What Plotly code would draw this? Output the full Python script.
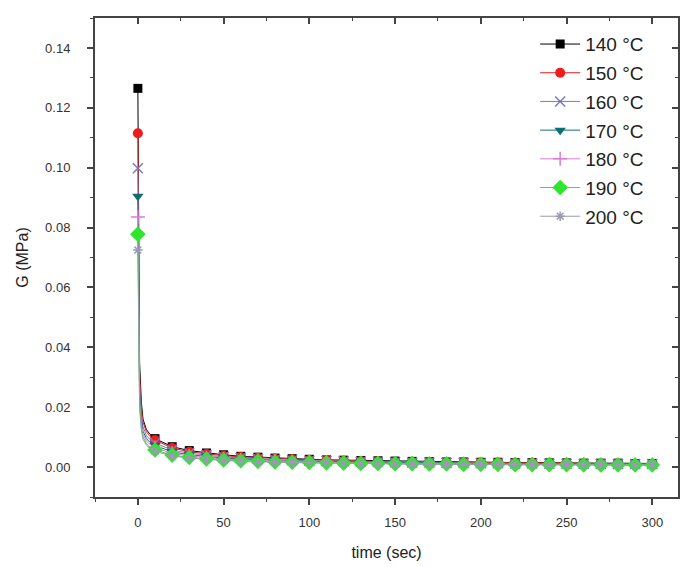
import plotly.graph_objects as go

# ---------------- data ----------------
t_marks = [0, 10, 20, 30, 40, 50, 60, 70, 80, 90, 100, 110, 120, 130, 140, 150,
           160, 170, 180, 190, 200, 210, 220, 230, 240, 250, 260, 270, 280, 290, 300]
t_early = [0.5, 1, 2, 3, 5, 7]

labels = ["140 °C", "150 °C", "160 °C", "170 °C", "180 °C", "190 °C", "200 °C"]

g140 = [0.1265, 0.0095, 0.0068, 0.0055, 0.0047, 0.0041, 0.0036, 0.0033, 0.0030, 0.0028, 0.0026,
        0.0024, 0.0023, 0.0022, 0.0021, 0.0020, 0.0019, 0.0018, 0.0017, 0.0017, 0.0016, 0.0016,
        0.0015, 0.0015, 0.0014, 0.0014, 0.0013, 0.0013, 0.0013, 0.0012, 0.0012]
g150 = [0.1115, 0.0090, 0.0064, 0.0051, 0.0044, 0.0038, 0.0034, 0.0031, 0.0028, 0.0026, 0.0024,
        0.0023, 0.0021, 0.0020, 0.0019, 0.0018, 0.0018, 0.0017, 0.0016, 0.0016, 0.0015, 0.0015,
        0.0014, 0.0014, 0.0013, 0.0013, 0.0012, 0.0012, 0.0012, 0.0011, 0.0011]
g160 = [0.0998, 0.0080, 0.0057, 0.0046, 0.0039, 0.0034, 0.0030, 0.0027, 0.0025, 0.0023, 0.0021,
        0.0020, 0.0019, 0.0018, 0.0017, 0.0016, 0.0015, 0.0015, 0.0014, 0.0014, 0.0013, 0.0013,
        0.0012, 0.0012, 0.0011, 0.0011, 0.0011, 0.0010, 0.0010, 0.0010, 0.0010]
g170 = [0.0905, 0.0072, 0.0051, 0.0041, 0.0035, 0.0030, 0.0027, 0.0024, 0.0022, 0.0020, 0.0019,
        0.0018, 0.0017, 0.0016, 0.0015, 0.0014, 0.0014, 0.0013, 0.0013, 0.0012, 0.0012, 0.0011,
        0.0011, 0.0011, 0.0010, 0.0010, 0.0010, 0.0009, 0.0009, 0.0009, 0.0009]
g180 = [0.0835, 0.0065, 0.0046, 0.0037, 0.0031, 0.0027, 0.0024, 0.0022, 0.0020, 0.0018, 0.0017,
        0.0016, 0.0015, 0.0014, 0.0013, 0.0013, 0.0012, 0.0012, 0.0011, 0.0011, 0.0010, 0.0010,
        0.0010, 0.0009, 0.0009, 0.0009, 0.0009, 0.0008, 0.0008, 0.0008, 0.0008]
g190 = [0.0778, 0.0057, 0.0040, 0.0032, 0.0027, 0.0024, 0.0021, 0.0019, 0.0017, 0.0016, 0.0015,
        0.0014, 0.0013, 0.0012, 0.0012, 0.0011, 0.0011, 0.0010, 0.0010, 0.0009, 0.0009, 0.0009,
        0.0008, 0.0008, 0.0008, 0.0008, 0.0007, 0.0007, 0.0007, 0.0007, 0.0007]
g200 = [0.0725, 0.0053, 0.0037, 0.0030, 0.0025, 0.0022, 0.0019, 0.0017, 0.0016, 0.0015, 0.0014,
        0.0013, 0.0012, 0.0011, 0.0011, 0.0010, 0.0010, 0.0009, 0.0009, 0.0009, 0.0008, 0.0008,
        0.0008, 0.0007, 0.0007, 0.0007, 0.0007, 0.0007, 0.0006, 0.0006, 0.0006]

# line values between t=0 and t=10 (read from the steep initial drop)
e140 = [0.050, 0.035, 0.022, 0.016, 0.0125, 0.0110]
e150 = [0.045, 0.031, 0.020, 0.015, 0.0118, 0.0103]
e160 = [0.040, 0.028, 0.018, 0.0135, 0.0105, 0.0092]
e170 = [0.036, 0.025, 0.016, 0.0120, 0.0095, 0.0083]
e180 = [0.033, 0.023, 0.0148, 0.0110, 0.0087, 0.0076]
e190 = [0.030, 0.021, 0.0135, 0.0100, 0.0078, 0.0067]
e200 = [0.028, 0.0195, 0.0125, 0.0093, 0.0073, 0.0062]

series = [g140, g150, g160, g170, g180, g190, g200]
early = [e140, e150, e160, e170, e180, e190, e200]

# ---------------- styles ----------------
colors = ["#000000", "#ee1c1c", "#7a7ab8", "#0e6e72", "#e07ad8", "#2ee62e", "#9a9ab0"]
symbols = ["square", "circle", "x-thin-open", "triangle-down", "cross-thin-open", "diamond", "asterisk-open"]
sizes = [9, 10, 10, 10, 10, 12, 8]

fig = go.Figure()

for lab, g, e, c, s, sz in zip(labels, series, early, colors, symbols, sizes):
    open_sym = s.endswith("-open")
    marker = dict(symbol=s, size=sz, color=c,
                  line=dict(width=1.5 if open_sym else 0, color=c))
    xs = [t_marks[0]] + t_early + t_marks[1:]
    ys = [g[0]] + e + g[1:]
    fig.add_trace(go.Scatter(x=xs, y=ys, mode="lines", line=dict(color=c, width=1),
                             showlegend=False, legendgroup=lab, hoverinfo="skip"))
    fig.add_trace(go.Scatter(x=t_marks, y=g, mode="markers", marker=marker,
                             showlegend=False, legendgroup=lab))
    fig.add_trace(go.Scatter(x=[None], y=[None], mode="lines+markers", name=lab,
                             line=dict(color=c, width=1), marker=marker, legendgroup=lab))

FONT = "Liberation Sans, Arial, sans-serif"
axis_font = dict(family=FONT, size=13, color="#333333")
title_font = dict(family=FONT, size=16, color="#222222")
AX = "#444444"

xr = [-25, 315]
yr = [-0.01, 0.15]
xt = [0, 50, 100, 150, 200, 250, 300]
yt = [0, 0.02, 0.04, 0.06, 0.08, 0.10, 0.12, 0.14]

fig.update_layout(
    width=680, height=567,
    margin=dict(l=95, r=2, t=18, b=70, autoexpand=False),
    paper_bgcolor="white", plot_bgcolor="white",
    showlegend=True,
    legend=dict(x=0.755, y=0.985, xanchor="left", yanchor="top",
                bgcolor="rgba(0,0,0,0)", borderwidth=0,
                font=dict(family=FONT, size=19, color="#222222"),
                tracegroupgap=1, itemwidth=40),
    xaxis=dict(range=xr, tickvals=xt,
               ticks="outside", ticklen=6, tickwidth=1.5, tickcolor=AX,
               minor=dict(ticks="outside", ticklen=3, tickwidth=1.2, dtick=25, tick0=0,
                          tickcolor=AX),
               showline=True, linecolor=AX, linewidth=2, mirror=False,
               showgrid=False, zeroline=False, tickfont=axis_font, ticklabelstandoff=6,
               title=dict(text="time (sec)", font=title_font, standoff=18)),
    yaxis=dict(range=yr, tickvals=yt,
               ticktext=["0.00", "0.02", "0.04", "0.06", "0.08", "0.10", "0.12", "0.14"],
               ticks="outside", ticklen=6, tickwidth=1.5, tickcolor=AX,
               minor=dict(ticks="outside", ticklen=3, tickwidth=1.2, dtick=0.01, tick0=0,
                          tickcolor=AX),
               showline=True, linecolor=AX, linewidth=2, mirror=False,
               showgrid=False, zeroline=False, tickfont=axis_font, ticklabelstandoff=14,
               title=dict(text="G (MPa)", font=title_font, standoff=12)),
    xaxis2=dict(range=xr, overlaying="x", side="top", tickvals=xt,
                ticks="inside", ticklen=6, tickwidth=1.5, tickcolor=AX,
                minor=dict(ticks="inside", ticklen=3, tickwidth=1.2, dtick=25, tick0=0,
                           tickcolor=AX),
                showticklabels=False, showgrid=False, zeroline=False,
                showline=True, linecolor=AX, linewidth=2, automargin=False),
    yaxis2=dict(range=yr, overlaying="y", side="right", tickvals=yt,
                ticks="inside", ticklen=6, tickwidth=1.5, tickcolor=AX,
                minor=dict(ticks="inside", ticklen=3, tickwidth=1.2, dtick=0.01, tick0=0,
                           tickcolor=AX),
                showticklabels=False, showgrid=False, zeroline=False,
                showline=True, linecolor=AX, linewidth=2, automargin=False),
)

fig.add_trace(go.Scatter(x=[None], y=[None], xaxis="x2", yaxis="y2", showlegend=False,
                         hoverinfo="skip"))

fig.write_html("out.html")
